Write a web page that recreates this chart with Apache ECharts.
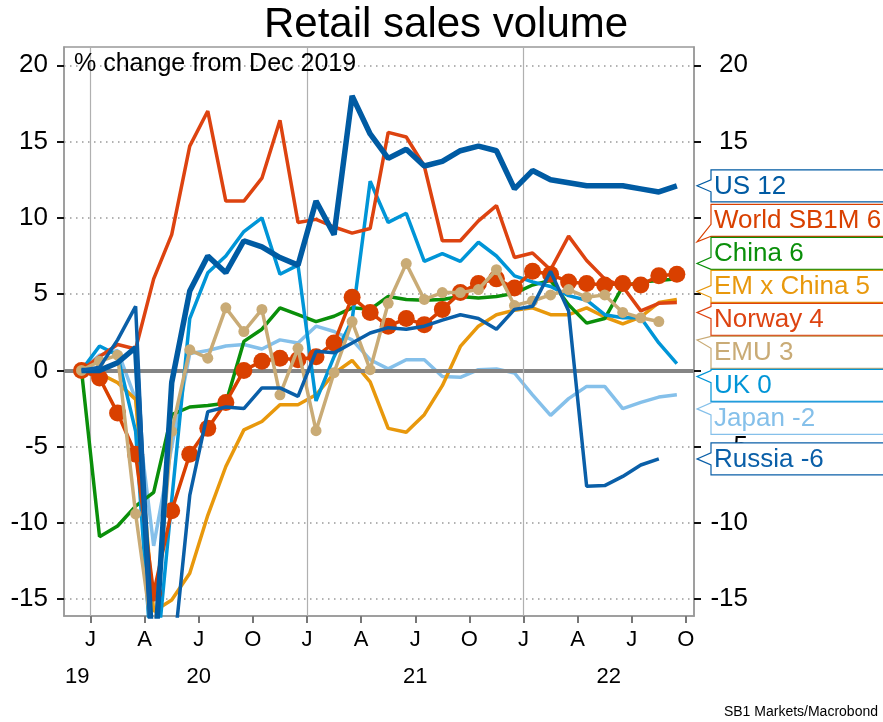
<!DOCTYPE html>
<html>
<head>
<meta charset="utf-8">
<title>Retail sales volume</title>
<script src="https://cdn.jsdelivr.net/npm/echarts@6.0.0/dist/echarts.min.js"></script>
<style>
html, body { margin: 0; padding: 0; background: #fff; }
#chart { width: 883px; height: 722px; }
</style>
</head>
<body>
<div id="chart"></div>
<script>
// monthly observations, Dec 2019 = 0
var months = ['2019-12',
  '2020-01', '2020-02', '2020-03', '2020-04', '2020-05', '2020-06',
  '2020-07', '2020-08', '2020-09', '2020-10', '2020-11', '2020-12',
  '2021-01', '2021-02', '2021-03', '2021-04', '2021-05', '2021-06',
  '2021-07', '2021-08', '2021-09', '2021-10', '2021-11', '2021-12',
  '2022-01', '2022-02', '2022-03', '2022-04', '2022-05', '2022-06',
  '2022-07', '2022-08', '2022-09'];

var us     = [0, 0, 0.5, 1.5, -20, -0.8, 5.2, 7.5, 6.4, 8.5, 8.1, 7.4, 6.9, 11.1, 8.9, 18.0, 15.5, 13.9, 14.5, 13.4, 13.7, 14.4, 14.7, 14.4, 11.9, 13.1, 12.5, 12.3, 12.1, 12.1, 12.1, 11.9, 11.7, 12.1];
var world  = [0, -0.5, -2.8, -5.5, -14.6, -9.2, -5.5, -3.8, -2.1, 0, 0.6, 0.8, 0.7, 0.9, 1.8, 4.8, 3.8, 2.9, 3.4, 3.0, 4.0, 5.1, 5.7, 6.0, 5.4, 6.5, 6.3, 5.8, 5.7, 5.6, 5.7, 5.6, 6.2, 6.3];
var china  = [0, -10.9, -10.2, -8.9, -8.0, -2.9, -2.4, -2.3, -2.15, 1.9, 2.7, 4.1, 3.65, 3.2, 3.55, 4.1, 4.0, 4.85, 4.65, 4.6, 4.65, 4.85, 4.75, 4.85, 5.05, 5.6, 5.9, 4.3, 3.1, 3.4, 5.5, 5.8, 5.9, 6.0];
var emxch  = [0, -0.2, -0.8, -1.9, -15.8, -15.05, -13.3, -9.5, -6.3, -3.9, -3.35, -2.25, -2.25, -1.6, -0.2, 0.65, -0.75, -3.8, -4.05, -2.9, -1.0, 1.57, 2.9, 3.65, 3.95, 4.1, 3.65, 3.65, 4.1, 3.5, 3.05, 3.5, 4.45, 4.65];
var norway = [0, 0.9, 1.7, 1.4, 6.0, 8.9, 14.7, 17.0, 11.1, 11.1, 12.6, 16.4, 9.7, 9.9, 9.4, 9.0, 9.3, 15.6, 15.3, 13.4, 8.5, 8.5, 9.8, 10.8, 7.4, 7.7, 6.6, 8.8, 7.2, 6.0, 5.5, 3.9, 4.4, 4.45];
var emu    = [0, 0.6, 1.0, -9.4, -18, -4.0, 1.35, 0.8, 4.1, 2.55, 4.0, -1.6, 1.45, -3.95, -0.15, 3.2, 0.05, 4.4, 7.0, 4.65, 5.1, 5.1, 5.3, 6.6, 4.25, 4.55, 4.95, 5.3, 4.8, 4.95, 3.8, 3.45, 3.2];
var uk     = [0, 1.6, 1.0, -4.0, -21, -8.5, 3.4, 6.4, 7.5, 9.1, 10.0, 6.3, 6.9, -2.0, 0.9, 3.3, 12.4, 9.7, 10.3, 7.15, 7.66, 7.15, 8.4, 7.5, 6.2, 5.8, 5.5, 4.9, 4.6, 3.65, 3.45, 3.45, 1.8, 0.45];
var japan  = [0, 1.0, 1.3, -1.9, -11.5, -5.0, 1.1, 1.3, 1.6, 1.7, 1.4, 2.0, 1.8, 2.9, 2.55, 2.0, 0.7, 0.1, 0.7, 0.7, -0.4, -0.45, 0.05, 0.1, -0.17, -1.6, -2.95, -1.85, -1.05, -1.05, -2.5, -2.1, -1.75, -1.6];
var russia = [0, 0.2, 2.0, 4.2, -22, -19.8, -8.2, -2.7, -2.4, -2.5, -1.15, -1.15, -1.7, 1.25, 1.15, 1.8, 2.45, 2.8, 2.7, 2.9, 3.3, 3.65, 3.4, 2.7, 4.0, 4.2, 6.5, 3.9, -7.6, -7.55, -6.95, -6.2, -5.8];

var yTicks = [-15, -10, -5, 0, 5, 10, 15, 20];
var quarterLabels = ['J', 'A', 'J', 'O'];
var years = [2019, 2020, 2021, 2022];
var yearLabels = ['19', '20', '21', '22'];

var FONT = 'Liberation Sans, Arial, Helvetica, sans-serif';
var xMin = -1.47, xMax = 33.45;   // months since Jan 2020
var yMin = -16.1, yMax = 21.2;
var gridL = 64, gridR = 189, gridT = 47, gridB = 106;

// x = months since Jan 2020, plotted mid-month
function pts(vals) {
  return vals.map(function (v, i) { return [i - 0.5, v]; });
}

var quarterTicks = [];
for (var q = 0; q <= xMax; q += 3) quarterTicks.push(q);

var yearCenters = years.map(function (y) {
  var a = Math.max((y - 2020) * 12, xMin), b = Math.min((y - 2019) * 12, xMax);
  return (a + b) / 2;
});

// drawing order: first is at the bottom
var lines = [
  { name: 'Japan',      vals: japan,  color: '#85C0EA', width: 3.5 },
  { name: 'EM x China', vals: emxch,  color: '#E8980C', width: 3.5 },
  { name: 'China',      vals: china,  color: '#0A8F0A', width: 3.5 },
  { name: 'UK',         vals: uk,     color: '#0095D7', width: 3.5 },
  { name: 'Norway',     vals: norway, color: '#DD4310', width: 3.5 },
  { name: 'World SB1M', vals: world,  color: '#D94000', width: 3.5, dot: 17 },
  { name: 'EMU',        vals: emu,    color: '#C9AB76', width: 3.5, dot: 11 },
  { name: 'US',         vals: us,     color: '#005BA3', width: 5.5 },
  { name: 'Russia',     vals: russia, color: '#0A5FA8', width: 3.5 }
];

var series = lines.map(function (l, i) {
  var s = {
    type: 'line',
    name: l.name,
    data: pts(l.vals),
    z: 3 + i,
    silent: true,
    symbol: l.dot ? 'circle' : 'none',
    symbolSize: l.dot || 0,
    showAllSymbol: true,
    lineStyle: { color: l.color, width: l.width },
    itemStyle: { color: l.color }
  };
  if (i === 0) {
    s.markLine = {
      silent: true,
      symbol: 'none',
      label: { show: false },
      data: [
        { yAxis: 0, lineStyle: { color: '#858585', width: 4, type: 'solid' } }
      ].concat(years.slice(1).map(function (y) {
        return { xAxis: (y - 2020) * 12, lineStyle: { color: '#b0b0b0', width: 1.2, type: 'solid' } };
      }))
    };
  }
  return s;
});

var myChart = echarts.init(document.getElementById('chart'));
var option = {
  animation: false,
  backgroundColor: '#fff',
  title: [{
    text: 'Retail sales volume',
    left: 264,
    top: 0,
    padding: [4, 0, 0, 0],
    textStyle: { fontSize: 42, fontWeight: 'normal', color: '#000', fontFamily: FONT }
  }, {
    text: '% change from Dec 2019',
    left: 74,
    top: 52,
    padding: 0,
    textStyle: { fontSize: 25, fontWeight: 'normal', color: '#000', fontFamily: FONT }
  }, {
    text: 'SB1 Markets/Macrobond',
    right: 5,
    bottom: 3,
    padding: 0,
    textStyle: { fontSize: 14, fontWeight: 'normal', color: '#000', fontFamily: FONT }
  }],
  grid: {
    left: gridL, right: gridR, top: gridT, bottom: gridB,
    show: true, borderColor: '#999', borderWidth: 1.5, backgroundColor: '#fff'
  },
  xAxis: [{
    type: 'value',
    min: xMin, max: xMax,
    axisLine: { show: true, onZero: false, lineStyle: { color: '#999', width: 1.5 } },
    splitLine: { show: false },
    axisTick: { show: true, customValues: quarterTicks, length: 7, lineStyle: { color: '#777', width: 2 } },
    axisLabel: {
      customValues: quarterTicks,
      margin: 13,
      fontSize: 22, color: '#000', fontFamily: FONT,
      formatter: function (v) { return quarterLabels[Math.round(v / 3) % 4]; }
    }
  }, {
    type: 'value',
    position: 'bottom',
    offset: 38,
    min: xMin, max: xMax,
    axisLine: { show: false, onZero: false },
    splitLine: { show: false },
    axisTick: { show: false },
    axisLabel: {
      customValues: yearCenters,
      margin: 12,
      fontSize: 22, color: '#000', fontFamily: FONT,
      formatter: function (v) {
        var best = 0;
        yearCenters.forEach(function (c, i) { if (Math.abs(c - v) < Math.abs(yearCenters[best] - v)) best = i; });
        return yearLabels[best];
      }
    }
  }],
  yAxis: [{
    type: 'value',
    position: 'left',
    min: yMin, max: yMax,
    splitNumber: 7, minInterval: 5, maxInterval: 5,
    axisLine: { show: true, onZero: false, lineStyle: { color: '#999', width: 1.5 } },
    axisTick: { show: true, customValues: yTicks, length: 7, lineStyle: { color: '#111', width: 2 } },
    axisLabel: { customValues: yTicks, margin: 16, fontSize: 26, color: '#000', fontFamily: FONT },
    splitLine: { show: true, lineStyle: { type: [1.5, 4.5], color: '#999', width: 1.5 } }
  }, {
    type: 'value',
    position: 'right',
    min: yMin, max: yMax,
    splitNumber: 7, minInterval: 5, maxInterval: 5,
    axisLine: { show: true, onZero: false, lineStyle: { color: '#999', width: 1.5 } },
    axisTick: { show: true, customValues: yTicks, length: 7, lineStyle: { color: '#111', width: 2 } },
    axisLabel: { customValues: yTicks, margin: 54, align: 'right', fontSize: 26, color: '#000', fontFamily: FONT },
    splitLine: { show: false }
  }],
  series: series
};
myChart.setOption(option);

// end-of-line callouts on the right, spread so they do not overlap
var GAP = 33;
var plotRight = myChart.getWidth() - gridR;
var tags = lines.map(function (l) {
  var last = l.vals[l.vals.length - 1];
  return {
    text: l.name + ' ' + Math.round(last),
    color: l.color,
    want: myChart.convertToPixel({ yAxisIndex: 0 }, last)
  };
});
tags.sort(function (a, b) { return a.want - b.want; });

var groups = tags.map(function (t) { return { items: [t], sum: t.want }; });
function place(g) {
  var n = g.items.length;
  g.top = g.sum / n - (n - 1) * GAP / 2;
  g.bottom = g.top + (n - 1) * GAP;
}
groups.forEach(place);
var i = 0;
while (i < groups.length - 1) {
  if (groups[i + 1].top - groups[i].bottom < GAP) {
    groups[i].items = groups[i].items.concat(groups[i + 1].items);
    groups[i].sum += groups[i + 1].sum;
    groups.splice(i + 1, 1);
    place(groups[i]);
    if (i > 0) i--;
  } else {
    i++;
  }
}
groups.forEach(function (g) {
  g.items.forEach(function (t, k) { t.y = g.top + k * GAP; });
});

var graphics = [];
var bx = plotRight + 17, tipX = plotRight + 3, half = 16;
tags.forEach(function (t) {
  var top = t.y - half, bot = t.y + half;
  var tipY = t.y + 0.4 * (t.want - t.y);
  var mid = Math.min(Math.max(tipY, top + 6), bot - 6);
  graphics.push({
    type: 'polygon',
    z: 100,
    shape: { points: [[bx, top], [900, top], [900, bot], [bx, bot], [bx, mid + 6], [tipX, tipY], [bx, mid - 6]] },
    style: { fill: '#fff', stroke: t.color, lineWidth: 1.2 }
  });
  graphics.push({
    type: 'text',
    z: 101,
    style: {
      text: t.text, x: bx + 3, y: t.y + 1,
      fill: t.color, font: '26px ' + FONT,
      fontSize: 26, fontFamily: FONT,
      textAlign: 'left', align: 'left',
      textVerticalAlign: 'middle', verticalAlign: 'middle'
    }
  });
});
myChart.setOption({ graphic: graphics });

window.addEventListener('resize', function () {
  myChart.resize();
});
</script>
</body>
</html>
